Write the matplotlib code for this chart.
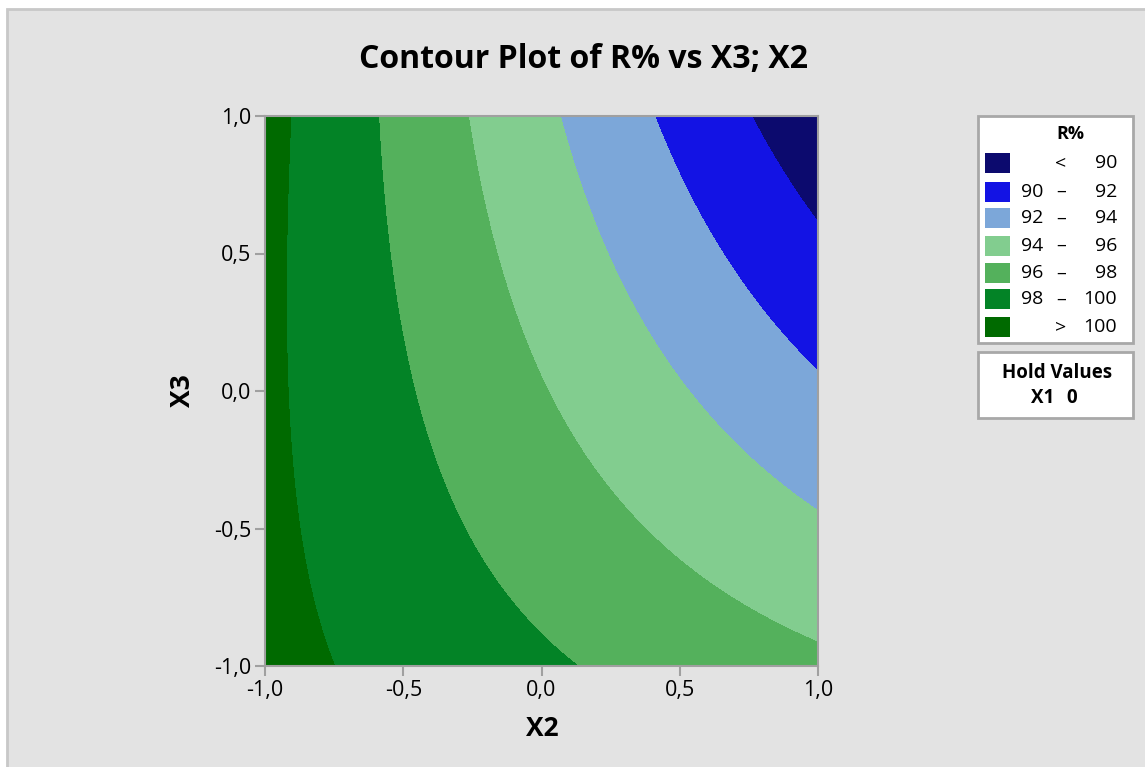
import numpy as np
import matplotlib.pyplot as plt
from matplotlib.patches import Rectangle
from matplotlib.ticker import FuncFormatter

plt.rcParams['font.family'] = ['Open Sans', 'DejaVu Sans']

bound_x2 = [-0.935, -0.917, -0.890, -0.846, -0.800,
            -0.584, -0.515, -0.429, -0.306, 0.175,
            -0.259, -0.114, 0.042, 0.277, 1.000,
            0.085, 0.295, 0.490, 0.863, 1.000,
            0.421, 0.693, 1.000,
            0.757, 1.000]
bound_x3 = [1.0, 0.5, 0.0, -0.687, -1.0,
            1.0, 0.331, 0.0, -0.396, -1.0,
            1.0, 0.331, 0.0, -0.396, -0.905,
            1.0, 0.331, 0.0, -0.396, -0.400,
            1.0, 0.331, 0.131,
            1.0, 0.633]
bound_r = [100] * 5 + [98] * 5 + [96] * 5 + [94] * 5 + [92] * 3 + [90] * 2

levels = [90, 92, 94, 96, 98, 100]
colors = ['#0c0a6e', '#1313e4', '#7ca7d9', '#82cd8f', '#54b15c', '#038326', '#006a00']
legend_labels = [('', '<', '90'), ('90', '–', '92'), ('92', '–', '94'), ('94', '–', '96'),
                 ('96', '–', '98'), ('98', '–', '100'), ('', '>', '100')]

# quadratic response surface through the boundary points (like minitab's fitted model)
bx = np.array(bound_x2)
by = np.array(bound_x3)
A = np.column_stack([np.ones_like(bx), bx, by, bx**2, by**2, bx * by])
coef = np.linalg.lstsq(A, np.array(bound_r, dtype=float), rcond=None)[0]

g = np.linspace(-1, 1, 301)
X, Y = np.meshgrid(g, g)
Z = coef[0] + coef[1]*X + coef[2]*Y + coef[3]*X**2 + coef[4]*Y**2 + coef[5]*X*Y

W, H = 1145, 767
fig = plt.figure(figsize=(W/100, H/100), dpi=100)
fig.patch.set_facecolor('white')

def fx(p):
    return p / W

def fy(p):
    return 1 - p / H

# grey panel with border, kept behind the axes
fig.patches.append(Rectangle((fx(7), -0.01), 1.02, fy(9) + 0.01, transform=fig.transFigure,
                             facecolor='#e3e3e3', edgecolor='#c8c8c8', lw=2, zorder=-10))

ax = fig.add_axes([fx(265), fy(666), fx(818) - fx(265), fy(116) - fy(666)])
ax.contourf(X, Y, Z, levels=[Z.min() - 1] + levels + [Z.max() + 1], colors=colors)
ax.set_xlim(-1, 1)
ax.set_ylim(-1, 1)
ax.set_xticks([-1, -0.5, 0, 0.5, 1])
ax.set_yticks([-1, -0.5, 0, 0.5, 1])
fmt = FuncFormatter(lambda v, p: f'{v:.1f}'.replace('.', ','))
ax.xaxis.set_major_formatter(fmt)
ax.yaxis.set_major_formatter(fmt)
ax.tick_params(direction='out', length=7, width=1.5, color='#a0a0a0', labelsize=15.5, pad=3)
for s in ax.spines.values():
    s.set_color('#a0a0a0')
    s.set_linewidth(1.5)

fig.text(fx(583), fy(60), 'Contour Plot of R% vs X3; X2', ha='center', va='center',
         fontsize=23, fontweight='bold')
fig.text(fx(542), fy(728), 'X2', ha='center', va='center', fontsize=19, fontweight='bold')
fig.text(fx(183), fy(391), 'X3', ha='center', va='center', fontsize=19, fontweight='bold',
         rotation=90)

# legend box
fs = 14
fig.patches.append(Rectangle((fx(978), fy(343)), fx(1133) - fx(978), fy(116) - fy(343),
                             transform=fig.transFigure, facecolor='white',
                             edgecolor='#a8a8a8', lw=2))
fig.text(fx(1070), fy(134), 'R%', ha='center', va='center', fontsize=13, fontweight='bold')
row_y = [163.3, 191.7, 218.3, 245.7, 273.3, 299.3, 327.3]
for c, (lo, mid, hi), yy in zip(colors, legend_labels, row_y):
    fig.patches.append(Rectangle((fx(985), fy(yy + 10)), fx(25), 20 / H,
                                 transform=fig.transFigure, facecolor=c, edgecolor='none'))
    if lo:
        fig.text(fx(1021), fy(yy), lo, ha='left', va='center', fontsize=fs)
    fig.text(fx(1061), fy(yy), mid, ha='center', va='center', fontsize=fs)
    fig.text(fx(1117), fy(yy), hi, ha='right', va='center', fontsize=fs)

# hold values box
fig.patches.append(Rectangle((fx(978), fy(418)), fx(1133) - fx(978), fy(352) - fy(418),
                             transform=fig.transFigure, facecolor='white',
                             edgecolor='#a8a8a8', lw=2))
fig.text(fx(1057), fy(373), 'Hold Values', ha='center', va='center', fontsize=13.5,
         fontweight='bold')
fig.text(fx(1043), fy(398), 'X1', ha='center', va='center', fontsize=13.5, fontweight='bold')
fig.text(fx(1072), fy(398), '0', ha='center', va='center', fontsize=13.5, fontweight='bold')

fig.savefig('out.png', dpi=100)
